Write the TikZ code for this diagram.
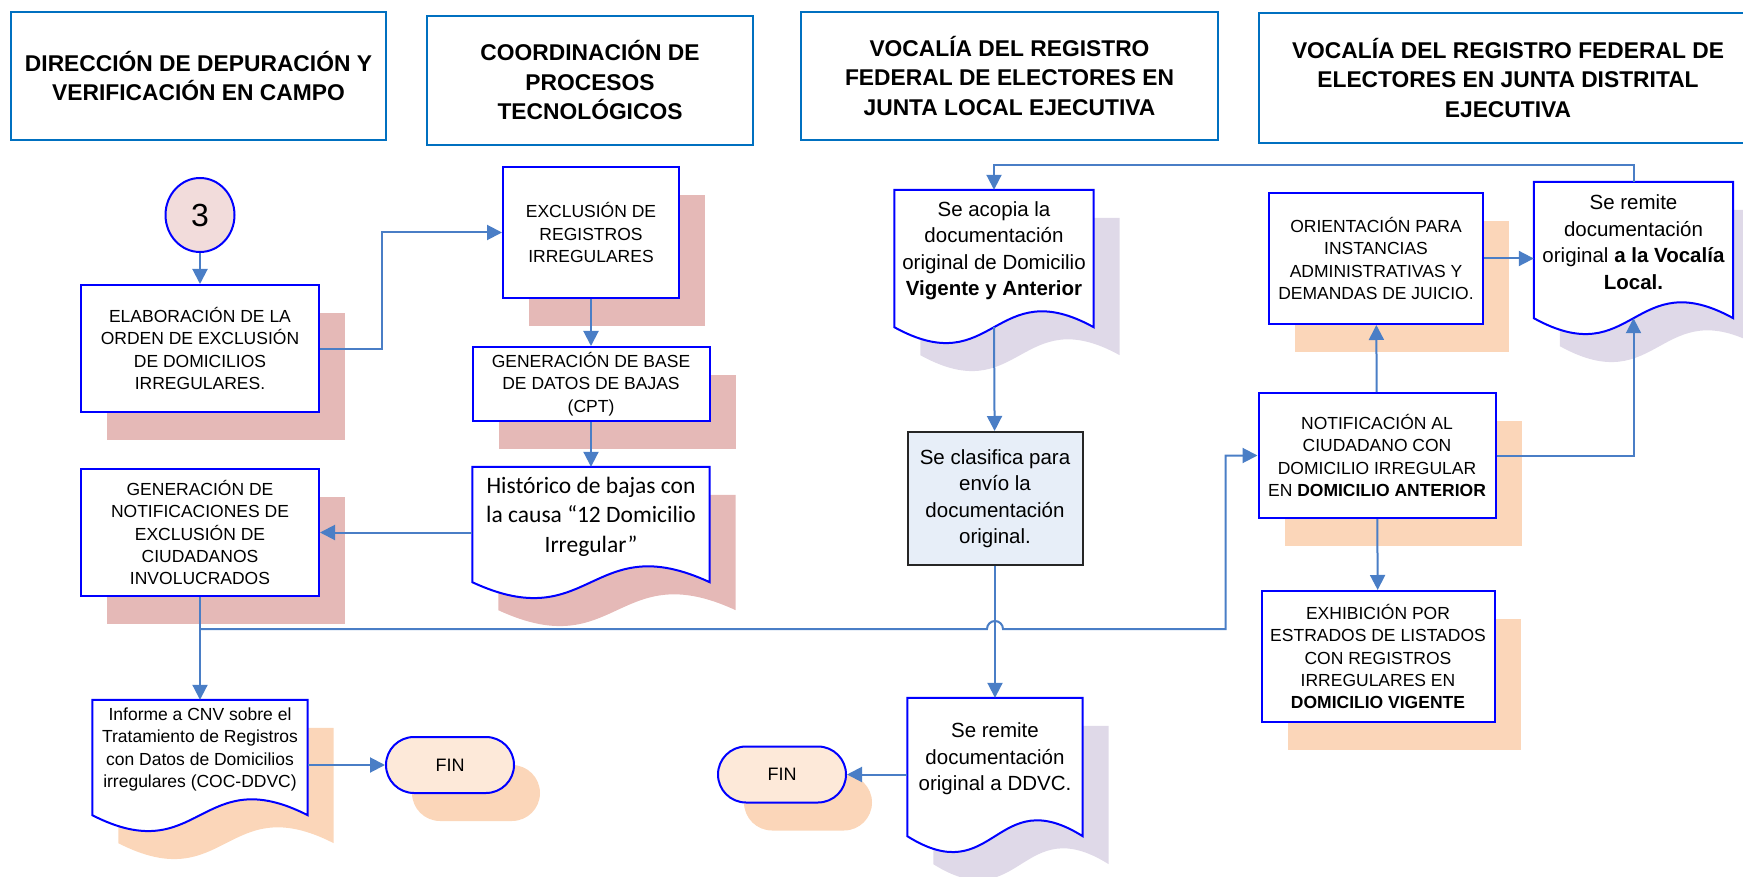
\documentclass[tikz,border=0pt]{standalone}
\usepackage{fontspec}
\setmainfont{Liberation Sans}
\newfontfamily\calibri{Carlito}
\usepackage{tikz}
\usetikzlibrary{shapes.geometric,arrows.meta,calc,shadows,backgrounds}

\definecolor{headblue}{RGB}{0,112,192}
\definecolor{boxblue}{RGB}{0,0,255}
\definecolor{lineblue}{RGB}{74,126,198}
\definecolor{shadowred}{RGB}{229,185,183}
\definecolor{shadoworange}{RGB}{251,214,185}
\definecolor{shadowlilac}{RGB}{223,217,232}
\definecolor{circfill}{RGB}{242,220,219}
\definecolor{finfill}{RGB}{253,233,217}
\definecolor{sortfill}{RGB}{231,238,248}

\tikzstyle{header} = [rectangle, minimum height=128pt, align=center, draw=headblue, line width=2.5pt, font=\fontsize{22.8}{29.5}\selectfont\bfseries]
\tikzstyle{process} = [rectangle, minimum width=238pt, minimum height=127pt, align=center, draw=boxblue, line width=2pt, fill=white, font=\fontsize{17.5}{22.4}\selectfont]
\tikzstyle{sortbox} = [rectangle, minimum width=175pt, minimum height=133pt, align=center, draw=black!85, line width=2pt, fill=sortfill, font=\fontsize{20.5}{26.5}\selectfont]
\tikzstyle{doctext} = [rectangle, align=center, font=\fontsize{20.5}{26.5}\selectfont]
\tikzstyle{docline} = [draw=boxblue, line width=2pt, fill=white]
\tikzstyle{startstop} = [rectangle, rounded corners=28pt, minimum width=128pt, minimum height=56pt, draw=boxblue, line width=2pt, fill=finfill, font=\fontsize{18}{22}\selectfont]
\tikzstyle{connect} = [ellipse, minimum width=69pt, minimum height=74pt, draw=boxblue, line width=2pt, fill=circfill, font=\fontsize{32}{32}\selectfont]
\tikzstyle{redshadow} = [drop shadow={shadow xshift=26pt, shadow yshift=-28pt, opacity=1, fill=shadowred}]
\tikzstyle{orangeshadow} = [drop shadow={shadow xshift=26pt, shadow yshift=-28pt, opacity=1, fill=shadoworange}]
\tikzstyle{lilacshadow} = [drop shadow={shadow xshift=26pt, shadow yshift=-28pt, opacity=1, fill=shadowlilac}]
\tikzstyle{arrow} = [draw=lineblue, line width=2pt, ->, >={Triangle[length=15pt, width=15pt]}]

\newcommand{\docshape}[2]{%
\begin{scope}[on background layer]
\draw [docline, #2] (#1.north west) -- (#1.north east) -- ($(#1.south east)+(0,16)$)
  .. controls ($(#1.south)+(0,-39)$) and ($(#1.south)+(0,71)$) .. ($(#1.south west)+(0,16)$) -- cycle;
\end{scope}
\coordinate (#1wave) at ($(#1.south)+(0,16)$);}

\begin{document}
\begin{tikzpicture}[x=1pt, y=-1pt]
\useasboundingbox (0,0) rectangle (1743,877);

\node(direccion) [header, minimum width=375pt] at (198.5,76) {DIRECCIÓN DE DEPURACIÓN Y\\VERIFICACIÓN EN CAMPO};
\node(coordinacion) [header, minimum width=326pt, minimum height=129pt] at (590,80.5) {COORDINACIÓN DE\\PROCESOS\\TECNOLÓGICOS};
\node(juntalocal) [header, minimum width=417pt] at (1009.5,76) {VOCALÍA DEL REGISTRO\\FEDERAL DE ELECTORES EN\\JUNTA LOCAL EJECUTIVA};
\node(juntadistrital) [header, minimum width=498pt, minimum height=130pt] at (1508,78) {VOCALÍA DEL REGISTRO FEDERAL DE\\ELECTORES EN JUNTA DISTRITAL\\EJECUTIVA};

\node(tres) [connect] at (200,215) {3};
\node(orden) [process, redshadow] at (200,348.5) {ELABORACIÓN DE LA\\ORDEN DE EXCLUSIÓN\\DE DOMICILIOS\\IRREGULARES.};
\node(exclusion) [process, redshadow, minimum width=176pt, minimum height=131pt] at (591,232.5) {EXCLUSIÓN DE\\REGISTROS\\IRREGULARES};
\node(basedatos) [process, redshadow, minimum width=237pt, minimum height=74pt] at (591,384) {GENERACIÓN DE BASE\\DE DATOS DE BAJAS\\(CPT)};
\node(historico) [doctext, minimum width=237pt, minimum height=99pt, font=\calibri\fontsize{23.5}{29.5}\selectfont] at (591,516.5) {Histórico de bajas con\\la causa “12 Domicilio\\Irregular”};
\node(notificaciones) [process, redshadow] at (200,532.5) {GENERACIÓN DE\\NOTIFICACIONES DE\\EXCLUSIÓN DE\\CIUDADANOS\\INVOLUCRADOS};
\node(informe) [doctext, minimum width=215pt, minimum height=99pt, font=\fontsize{17.5}{22.6}\selectfont] at (200,749.5) {Informe a CNV sobre el\\Tratamiento de Registros\\con Datos de Domicilios\\irregulares (COC-DDVC)};
\node(fina) [startstop, orangeshadow] at (450,765) {FIN};

\node(acopia) [doctext, minimum width=199pt, minimum height=121pt] at (994,250.5) {Se acopia la\\documentación\\original de Domicilio\\\textbf{Vigente y Anterior}};
\node(clasifica) [sortbox] at (995,498.5) {Se clasifica para\\envío la\\documentación\\original.};
\node(ddvc) [doctext, minimum width=175pt, minimum height=122pt] at (995,759) {Se remite\\documentación\\original a DDVC.};
\node(finb) [startstop, orangeshadow] at (782,774.5) {FIN};

\node(orientacion) [process, orangeshadow, minimum width=214pt, minimum height=131pt] at (1376,258.5) {ORIENTACIÓN PARA\\INSTANCIAS\\ADMINISTRATIVAS Y\\DEMANDAS DE JUICIO.};
\node(vocalia) [doctext, minimum width=199pt, minimum height=120pt] at (1633.5,242) {Se remite\\documentación\\original \textbf{a la Vocalía}\\\textbf{Local.}};
\node(notifica) [process, orangeshadow, minimum width=237pt, minimum height=125pt] at (1377,455.5) {NOTIFICACIÓN AL\\CIUDADANO CON\\DOMICILIO IRREGULAR\\EN \textbf{DOMICILIO ANTERIOR}};
\node(exhibicion) [process, orangeshadow, minimum width=233pt, minimum height=131pt] at (1378,656.5) {EXHIBICIÓN POR\\ESTRADOS DE LISTADOS\\CON REGISTROS\\IRREGULARES EN\\\textbf{DOMICILIO VIGENTE}};

\docshape{historico}{redshadow}
\docshape{informe}{orangeshadow}
\docshape{acopia}{lilacshadow}
\docshape{ddvc}{lilacshadow}
\docshape{vocalia}{lilacshadow}

\coordinate (split) at (200,629);

\draw [arrow] (tres) -- (orden);
\draw [arrow] (orden.east) -- ++(62,0) |- (exclusion.west);
\draw [arrow] (exclusion) -- (basedatos);
\draw [arrow] (basedatos) -- (historico);
\draw [arrow] (historico.west |- notificaciones.east) -- (notificaciones.east);
\draw [arrow] (notificaciones) -- (informe);
\draw [arrow] (informe.east |- fina.west) -- (fina.west);
\draw [arrow] (split) -- ($(split -| clasifica.south)+(-8,0)$) arc [start angle=180, end angle=0, radius=8pt]
     -- ($(split -| notifica.west)+(-32,0)$) |- (notifica.west);

\draw [arrow] (vocalia.north) -- ++(0,-17) -| (acopia.north);
\draw [arrow] (acopiawave) -- (clasifica);
\draw [arrow] (clasifica) -- (ddvc);
\draw [arrow] (ddvc.west |- finb.east) -- (finb.east);

\draw [arrow] (notifica) -- (orientacion);
\draw [arrow] (orientacion.east) -- (orientacion.east -| vocalia.west);
\draw [arrow] (notifica.east) -| (vocaliawave);
\draw [arrow] (notifica) -- (exhibicion);

\end{tikzpicture}
\end{document}
